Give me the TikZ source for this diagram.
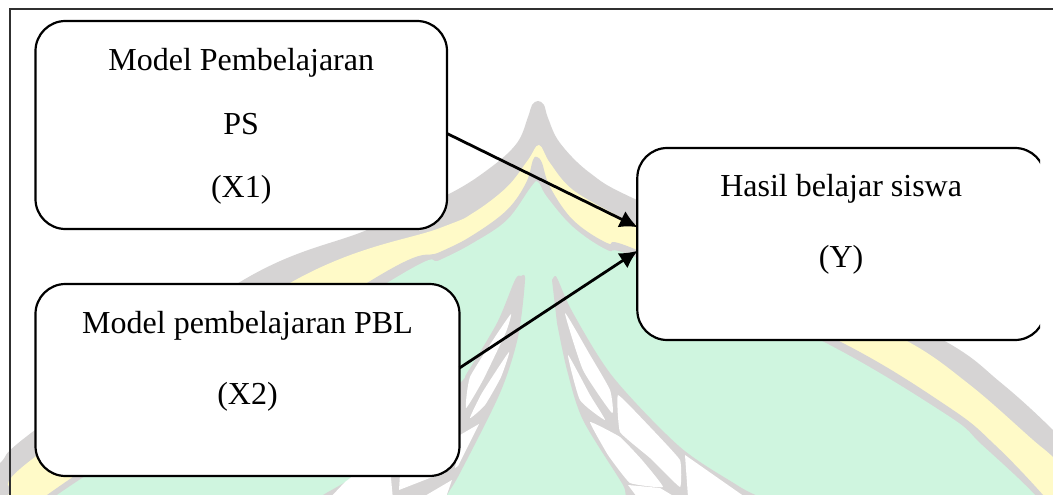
\documentclass[tikz,border=0pt]{standalone}
\usepackage{fontspec}
\setmainfont{Liberation Serif}
\usetikzlibrary{arrows.meta}
\definecolor{wmgrey}{HTML}{D6D4D4}
\definecolor{wmyellow}{HTML}{FFFAC8}
\definecolor{wmgreen}{HTML}{CFF5DF}
\definecolor{framegrey}{HTML}{303030}
\newcommand{\boxtext}[5]{\parbox[c][#2pt][t]{#1pt}{\centering\fontsize{32}{#4pt}\selectfont\rule{0pt}{#3pt}#5}}
\tikzset{
  boxnode/.style={draw=black,fill=white,line width=2.2pt,rounded corners=30pt,inner sep=0pt,outer sep=0pt,anchor=north west},
  linkarrow/.style={draw=black,line width=2.8pt,-{Latex[length=18pt,width=18pt]},shorten >=-0.5pt},
  lobe/.style={fill=white,draw=none},
}
\begin{document}
\begin{tikzpicture}[x=1pt,y=-1pt]
\useasboundingbox (0,0) rectangle (1053,495);
\begin{scope}
\clip (0,0) rectangle (1053,495);
\fill[white] (0,0) rectangle (1053,495);
% watermark: nested arch bands
\fill[wmgrey] plot[smooth,tension=.6] coordinates {(-30,490) (0,463) (35,430) (240,282) (367,230) (447,195) (490,168) (517,143) (528,117) (532,105) (538,101) (544,105) (548,118) (560,143) (590,173) (637,200) (800,270) (943,340) (1000,382) (1053,430) (1110,490)} -- (1110,540) -- (-30,540) -- cycle;
\fill[wmyellow] plot[smooth,tension=.6] coordinates {(-30,530) (8,495) (35,457) (290,283) (440,228) (473,213) (507,187) (528,160) (539,145) (550,163) (573,190) (620,217) (637,225) (800,295) (905,340) (970,385) (1033,440) (1053,457) (1110,510)} -- (1110,560) -- (-30,560) -- cycle;
\fill[wmgrey] plot[smooth,tension=.6] coordinates {(20,530) (47,495) (367,283) (440,252) (473,235) (507,210) (526,183) (533,160) (537,157) (542,163) (550,187) (573,220) (607,243) (637,250) (837,340) (950,408) (995,445) (1043,495) (1070,530)} -- cycle;
\fill[wmgreen] plot[smooth,tension=.6] coordinates {(30,530) (57,495) (387,283) (440,260) (473,243) (507,220) (531,187) (538,182) (547,197) (573,227) (607,250) (637,258) (820,340) (947,415) (982,445) (1035,495) (1060,530)} -- cycle;
% left leaf
\fill[wmgrey] plot[smooth,tension=.5] coordinates {(300,510) (323,495) (353,477) (400,440) (460,383) (467,373) (497,323) (515,280) (521,276) (525,280) (518,337) (500,393) (460,473) (447,495) (435,520)} -- cycle;
\fill[lobe] plot[smooth cycle,tension=.3] coordinates {(511,314) (495,337) (470,377) (466,408) (483,380) (506,332)};
\fill[lobe] plot[smooth cycle,tension=.3] coordinates {(509,352) (501,377) (485,405) (470,418) (482,393)};
\fill[lobe] (460,435) -- (479,424) -- (458,466) -- (455,468) -- cycle;
\fill[lobe] (345,482) -- (400,440) -- (391,478) -- (393,500) -- (328,500) -- cycle;
\fill[lobe] (400,474) -- (440,474) -- (399,490) -- cycle;
\fill[lobe] (418,500) -- (452,480) -- (445,500) -- cycle;
% right leaf
\fill[wmgrey] plot[smooth,tension=.5] coordinates {(552,280) (555,276) (558,280) (573,313) (613,377) (680,447) (740,487) (790,518) (640,518) (623,485) (583,420) (567,370) (557,323)} -- cycle;
\fill[lobe] plot[smooth cycle,tension=.3] coordinates {(565,313) (590,355) (610,390) (612,413) (583,370)};
\fill[lobe] plot[smooth cycle,tension=.3] coordinates {(568,355) (580,400) (605,420) (590,395)};
\fill[lobe] plot[smooth cycle,tension=.2] coordinates {(618,395) (650,427) (680,460) (680,487) (650,458) (620,432)};
\fill[lobe] plot[smooth cycle,tension=.2] coordinates {(590,422) (620,437) (642,460) (663,487) (630,483) (608,455)};
\fill[lobe] (685,455) -- (745,497) -- (688,497) -- cycle;
\fill[lobe] (628,485) -- (660,488) -- (675,497) -- (637,497) -- cycle;
\end{scope}
% frame
\draw[framegrey,line width=2pt] (9.5,497) -- (9.5,9.5) -- (1055,9.5);
% boxes
\node[boxnode] (x1) at (35.5,21) {\boxtext{411.5}{208}{49}{64}{Model Pembelajaran\\PS\\(X1)}};
\node[boxnode] (x2) at (35.5,284) {\boxtext{424}{192}{49}{71}{Model pembelajaran PBL\\(X2)}};
\begin{scope}
\clip (600,100) rectangle (1040,380);
\node[boxnode] (y) at (637.3,148) {\boxtext{407.7}{192}{48}{71}{Hasil belajar siswa\\(Y)}};
\end{scope}
% connectors
\coordinate (s1) at ([yshift=-8.5pt]x1.east);
\coordinate (s2) at ([yshift=12pt]x2.east);
\coordinate (e1) at ([yshift=17pt]y.west);
\coordinate (e2) at ([yshift=-7pt]y.west);
\draw[linkarrow] (s1) -- (e1);
\draw[linkarrow] (s2) -- (e2);
\end{tikzpicture}
\end{document}
